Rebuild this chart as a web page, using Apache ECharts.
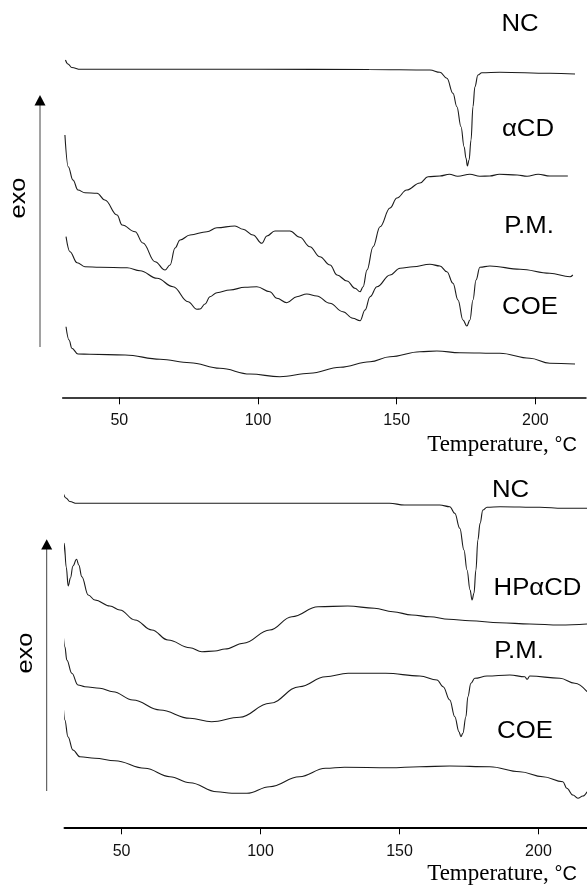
<!DOCTYPE html>
<html>
<head>
<meta charset="utf-8">
<script src="https://cdn.jsdelivr.net/npm/echarts@6/dist/echarts.min.js"></script>
<style>
  html, body { margin: 0; padding: 0; background: #fff; }
  #chart { width: 587px; height: 890px; }
</style>
</head>
<body>
<div id="chart"></div>
<script>
// ---- Tick labels ----
const xTicks = [50, 100, 150, 200];
const topLabels = ['NC', '\u03B1CD', 'P.M.', 'COE'];
const bottomLabels = ['NC', 'HP\u03B1CD', 'P.M.', 'COE'];
const xAxisTitle = 'Temperature, ';
const xAxisUnit = '\u00B0C';
const yAxisTitle = 'exo';

// ---- Top panel (heat flow, arbitrary units, curves offset) ----
const topNC_T = [30.6, 31.5, 32.9, 36.0, 60, 100, 140, 162.0, 165.6, 168.1, 170.3, 171.7, 173.2, 174.3, 175.0, 175.5, 176.1, 176.8, 177.5, 178.2, 179.3, 180.7, 187.2, 205.2, 214.3];
const topNC_V = [33.73, 33.33, 32.98, 32.8, 32.8, 32.8, 32.78, 32.73, 32.5, 31.9, 30.4, 29.06, 27.06, 25.06, 23.9, 23.13, 23.73, 25.73, 29.06, 31.06, 32.23, 32.46, 32.5, 32.4, 32.33];

const topCD_T = [30.4, 31.6, 33.3, 35.1, 37.6, 42.0, 44.8, 49.2, 51.0, 55.7, 58.5, 62.9, 66.5, 68.3, 70.1, 71.9, 75.5, 81.6, 85.2, 91.7, 94.6, 98.2, 101.4, 103.2, 106.1, 111.5, 115.1, 118.7, 122.3, 126.0, 128.5, 132.1, 135.0, 136.8, 137.9, 139.3, 141.5, 144.0, 147.6, 150.1, 153.6, 158.4, 161.3, 165.6, 169, 172, 176.4, 180, 183.6, 187, 193.4, 197, 201, 205.2, 211.7];
const topCD_V = [26.23, 23.06, 21.73, 20.73, 20.46, 20.4, 19.73, 18.23, 17.23, 16.56, 15.43, 13.56, 12.73, 13.23, 14.93, 15.73, 16.23, 16.56, 16.96, 17.13, 16.8, 16.23, 15.4, 16.13, 16.63, 16.63, 16.0, 15.06, 14.06, 13.23, 12.23, 11.63, 10.9, 10.56, 11.06, 12.73, 15.06, 17.06, 18.93, 19.93, 20.73, 21.43, 22.06, 22.13, 22.3, 22.1, 22.3, 22.1, 22.13, 22.3, 22.23, 22.1, 22.3, 22.13, 22.13];

const topPM_T = [30.8, 32.2, 34.8, 37.6, 43.0, 52.8, 57.5, 63.6, 69.4, 74.8, 78.0, 79.1, 80.9, 82.7, 85.2, 89.9, 95.3, 99.6, 104.3, 106.8, 110.4, 114.0, 117.6, 121.2, 125.9, 130.6, 134.2, 136.8, 138.6, 140.4, 142.9, 147.6, 151.2, 155.9, 162.0, 165.6, 168.1, 170.3, 172.1, 173.9, 175.3, 176.4, 177.5, 178.6, 180.0, 183.6, 194.5, 205.2, 212.5, 213.5];
const topPM_V = [16.06, 14.56, 13.46, 13.06, 13.0, 12.96, 12.66, 11.9, 11.06, 9.56, 8.8, 8.83, 9.33, 10.06, 10.46, 10.73, 11.0, 11.06, 10.56, 9.9, 9.46, 10.06, 10.33, 10.13, 9.4, 8.56, 7.9, 7.66, 8.73, 10.06, 11.06, 12.23, 12.9, 13.06, 13.3, 13.13, 12.56, 11.4, 9.73, 7.73, 7.13, 7.73, 9.73, 11.73, 13.0, 13.13, 12.8, 12.4, 12.06, 12.23];

const topCOE_T = [30.8, 31.9, 32.9, 35.1, 39.4, 52.1, 64.7, 75.5, 86.3, 97.1, 107.9, 118.7, 129.6, 140.4, 147.6, 158.4, 164.5, 172.8, 187.2, 198.0, 205.2, 214.3];
const topCOE_V = [7.06, 5.73, 4.9, 4.33, 4.3, 4.23, 3.8, 3.46, 2.9, 2.33, 2.06, 2.4, 3.0, 3.56, 4.06, 4.56, 4.63, 4.46, 4.4, 3.9, 3.4, 3.33];

// ---- Bottom panel ----
const botNC_T = [29.1, 30.0, 31.4, 33.8, 78.2, 146.4, 151.8, 164.5, 168.1, 169.9, 171.7, 173.2, 174.3, 175.4, 176.1, 176.8, 177.5, 178.2, 179.0, 180.0, 181.5, 186.2, 200.5, 208.8, 217.5];
const botNC_V = [33.33, 32.93, 32.58, 32.4, 32.4, 32.4, 32.23, 32.23, 32.06, 31.4, 29.9, 27.73, 25.73, 23.73, 22.73, 23.4, 25.73, 28.73, 30.4, 31.73, 32.0, 32.06, 32.0, 31.9, 31.9];

const botHP_T = [29.0, 29.35, 30.1, 30.8, 31.6, 32.5, 33.8, 34.6, 35.7, 38.0, 40.4, 45.8, 49.4, 54.8, 60.9, 66.7, 74.6, 78.9, 83.6, 87.2, 93.8, 103.3, 111.3, 120.7, 131.4, 141.0, 147.6, 154.5, 160.9, 167.8, 175.3, 186.1, 196.9, 207.7, 217.5];
const botHP_V = [26.4, 28.4, 26.0, 24.13, 24.93, 26.13, 26.8, 26.23, 25.06, 23.23, 22.73, 22.13, 21.73, 20.73, 19.73, 18.73, 17.96, 17.56, 17.63, 17.83, 18.4, 19.73, 21.06, 22.06, 22.13, 21.9, 21.56, 21.23, 21.06, 20.8, 20.66, 20.46, 20.33, 20.23, 20.33];

const botPM_T = [29.0, 29.6, 30.3, 32.1, 34.3, 36.8, 42.2, 46.9, 54.1, 63.8, 74.6, 82.4, 92.5, 103.3, 114.0, 123.4, 131.5, 145.0, 157.3, 163.5, 165.7, 168.1, 169.9, 171.4, 172.1, 172.8, 173.9, 174.6, 175.7, 177.1, 181.5, 189.7, 195.1, 195.9, 196.9, 207.7, 213.1, 217.5];
const botPM_V = [19.23, 18.06, 16.73, 15.4, 14.23, 14.06, 13.9, 13.56, 12.73, 11.73, 10.9, 10.56, 11.0, 12.4, 14.06, 15.06, 15.4, 15.4, 15.13, 14.73, 14.06, 12.73, 11.06, 9.56, 9.06, 9.4, 11.06, 13.06, 14.4, 14.9, 15.13, 15.23, 15.06, 14.8, 15.13, 14.9, 14.4, 13.56];

const botCOE_T = [29.0, 29.6, 30.7, 32.5, 35.0, 40.4, 47.6, 58.4, 67.4, 74.6, 84.3, 89.7, 95.1, 103.3, 114.0, 123.4, 130.2, 146.5, 157.3, 168.1, 182.5, 193.3, 201.6, 208.8, 210.2, 212.4, 214.2, 216.0, 217.5];
const botCOE_V = [12.13, 10.73, 9.06, 7.73, 7.06, 6.9, 6.66, 5.9, 5.06, 4.46, 3.56, 3.4, 3.4, 4.06, 5.06, 5.9, 6.0, 5.96, 6.06, 6.13, 6.06, 5.56, 5.06, 4.56, 3.9, 3.23, 2.9, 3.13, 3.56];

// ---- build ----
function zip(t, v) { return t.map((x, i) => [x, v[i]]); }
const LINE = '#1a1a1a';
function curve(name, t, v, idx) {
  return {
    type: 'line', name: name, xAxisIndex: idx, yAxisIndex: idx,
    data: zip(t, v), showSymbol: false, symbol: 'none',
    smooth: 0.4, smoothMonotone: 'x', clip: false,
    lineStyle: { color: LINE, width: 1.1 }, silent: true
  };
}

const SANS = '"Liberation Sans", Arial, sans-serif';
const SERIF = '"Liberation Serif", "Times New Roman", serif';

function xAxisCfg(idx, min, max, lineW, margin) {
  return {
    type: 'value', gridIndex: idx, min: min, max: max,
    axisLine: { show: true, lineStyle: { color: '#000', width: lineW } },
    axisTick: { show: true, length: 7, customValues: xTicks, lineStyle: { color: '#000', width: 1 } },
    axisLabel: { show: true, customValues: xTicks, margin: margin, color: '#111', fontSize: 16, fontFamily: SANS },
    splitLine: { show: false }
  };
}
function yAxisCfg(idx, max) {
  return { type: 'value', gridIndex: idx, min: 0, max: max, show: false, splitLine: { show: false } };
}

function label(txt, cx, cy) {
  return { type: 'text', x: cx, y: cy, scaleX: 1.12, silent: true,
    style: { text: txt, font: '23px ' + SANS, fill: '#000', textAlign: 'center', textVerticalAlign: 'middle', align: 'center', verticalAlign: 'middle' } };
}
function exo(cx, cy) {
  return { type: 'text', x: cx, y: cy, rotation: Math.PI / 2, scaleX: 1.15, silent: true,
    style: { text: yAxisTitle, font: '22px ' + SANS, fill: '#000', textAlign: 'center', textVerticalAlign: 'middle', align: 'center', verticalAlign: 'middle' } };
}
function arrow(x, tip, base, bottom) {
  return [
    { type: 'line', silent: true, shape: { x1: x, y1: base, x2: x, y2: bottom }, style: { stroke: '#444', lineWidth: 1 } },
    { type: 'polygon', silent: true, shape: { points: [[x, tip], [x - 5.5, base + 0.5], [x + 5.5, base + 0.5]] }, style: { fill: '#000' } }
  ];
}
function tempTitle(rx, cy) {
  return { type: 'text', x: rx, y: cy, silent: true,
    style: { text: '{a|' + xAxisTitle + '}{b|' + xAxisUnit + '}', textAlign: 'right', textVerticalAlign: 'middle', align: 'right', verticalAlign: 'middle',
      rich: { a: { fontFamily: SERIF, fontSize: 23, color: '#000' }, b: { fontFamily: SANS, fontSize: 20, color: '#000' } } } };
}

const option = {
  animation: false,
  backgroundColor: '#fff',
  grid: [
    { left: 62.7, right: 1, top: 7.3, height: 390 },
    { left: 64.6, right: 0, top: 467.3, height: 360 }
  ],
  xAxis: [ xAxisCfg(0, 29.6, 218.25, 1.5, 15), xAxisCfg(1, 29.5, 217.47, 2.2, 16) ],
  yAxis: [ yAxisCfg(0, 39), yAxisCfg(1, 36) ],
  series: [
    curve(topLabels[0], topNC_T, topNC_V, 0),
    curve(topLabels[1], topCD_T, topCD_V, 0),
    curve(topLabels[2], topPM_T, topPM_V, 0),
    curve(topLabels[3], topCOE_T, topCOE_V, 0),
    curve(bottomLabels[0], botNC_T, botNC_V, 1),
    curve(bottomLabels[1], botHP_T, botHP_V, 1),
    curve(bottomLabels[2], botPM_T, botPM_V, 1),
    curve(bottomLabels[3], botCOE_T, botCOE_V, 1)
  ],
  graphic: [
    label(topLabels[0], 520, 25),
    label(topLabels[1], 528, 130),
    label(topLabels[2], 529, 227),
    label(topLabels[3], 530, 308),
    label(bottomLabels[0], 510.5, 491),
    label(bottomLabels[1], 537.5, 588.5),
    label(bottomLabels[2], 519, 652),
    label(bottomLabels[3], 525, 732),
    exo(18.5, 198),
    exo(26, 653),
    ...arrow(40, 95, 105, 347),
    ...arrow(46.7, 539.3, 549, 791),
    tempTitle(577, 445),
    tempTitle(577, 874)
  ]
};

const chart = echarts.init(document.getElementById('chart'), null, { renderer: 'canvas' });
chart.setOption(option);
</script>
</body>
</html>
